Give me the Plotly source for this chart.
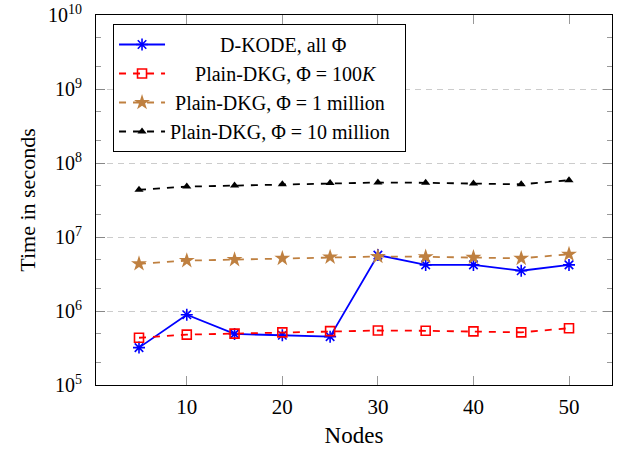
import plotly.graph_objects as go

nodes = [5, 10, 15, 20, 25, 30, 35, 40, 45, 50]
dkode = [3.2e5, 8.9e5, 4.9e5, 4.7e5, 4.5e5, 5.7e6, 4.2e6, 4.2e6, 3.5e6, 4.2e6]
dkg_100k = [4.35e5, 4.8e5, 4.95e5, 5.15e5, 5.35e5, 5.45e5, 5.4e5, 5.3e5, 5.15e5, 5.85e5]
dkg_1m = [4.35e6, 4.8e6, 4.95e6, 5.15e6, 5.35e6, 5.45e6, 5.4e6, 5.3e6, 5.15e6, 5.85e6]
dkg_10m = [4.35e7, 4.8e7, 4.95e7, 5.15e7, 5.35e7, 5.45e7, 5.4e7, 5.3e7, 5.15e7, 5.85e7]

series_names = [
    "D-KODE, all Φ",
    "Plain-DKG, Φ = 100<i>K</i>",
    "Plain-DKG, Φ = 1 million",
    "Plain-DKG, Φ = 10 million",
]
name_pad = [10, 5, 1, 0]  # non-breaking spaces to centre legend text

y_tickvals = [1e5, 1e6, 1e7, 1e8, 1e9, 1e10]
y_ticktext = ["10<sup>5</sup>", "10<sup>6</sup>", "10<sup>7</sup>", "10<sup>8</sup>", "10<sup>9</sup>", "10<sup>10</sup>"]
x_tickvals = [10, 20, 30, 40, 50]

FONT = "Liberation Serif"
DASH = "7px,7px"
NB = "\u00a0"

def nm(i):
    return NB * name_pad[i] + series_names[i] + NB * 2

fig = go.Figure()
fig.add_trace(go.Scatter(
    x=nodes, y=dkode, mode="lines+markers", name=nm(0),
    line=dict(color="#0000FF", width=1.8),
    marker=dict(symbol="asterisk-open", size=10, color="#0000FF", line=dict(color="#0000FF", width=1.6)),
))
fig.add_trace(go.Scatter(
    x=nodes, y=dkg_100k, mode="lines+markers", name=nm(1),
    line=dict(color="#FF0000", width=1.8, dash=DASH),
    marker=dict(symbol="square-open", size=9, color="#FF0000", line=dict(color="#FF0000", width=1.6)),
))
fig.add_trace(go.Scatter(
    x=nodes, y=dkg_1m, mode="lines+markers", name=nm(2),
    line=dict(color="#BF8040", width=1.8, dash=DASH),
    marker=dict(symbol="star", size=12, color="#BF8040", line=dict(width=0)),
))
fig.add_trace(go.Scatter(
    x=nodes, y=dkg_10m, mode="lines+markers", name=nm(3),
    line=dict(color="#000000", width=1.8, dash=DASH),
    marker=dict(symbol="triangle-up", size=8, color="#000000", line=dict(width=0)),
))

fig.update_layout(
    width=628, height=449, autosize=False,
    margin=dict(l=96, r=16, t=15, b=64, autoexpand=False),
    paper_bgcolor="white", plot_bgcolor="white",
    font=dict(family=FONT, size=20, color="#000000"),
    showlegend=True,
    legend=dict(
        x=0.033, y=0.9757, xanchor="left", yanchor="top",
        bgcolor="white", bordercolor="#000000", borderwidth=1,
        font=dict(family=FONT, size=20), tracegroupgap=0,
        itemwidth=46,
    ),
    xaxis=dict(
        range=[0.5, 54.5], tickvals=x_tickvals, ticks="inside", ticklen=9,
        tickcolor="#999999", showgrid=False, zeroline=False, automargin=True,
        showline=True, linecolor="#000000", linewidth=1, mirror="allticks",
        ticklabelstandoff=3,
        title=dict(text="Nodes", font=dict(family=FONT, size=23), standoff=8),
        tickfont=dict(family=FONT, size=21),
    ),
    yaxis=dict(
        type="log", range=[5, 10], tickvals=y_tickvals, ticktext=y_ticktext,
        ticks="inside", ticklen=9, tickcolor="#888888", automargin=True,
        ticklabeloverflow="allow",
        showgrid=True, gridcolor="#CCCCCC", griddash="6px,5px", gridwidth=1,
        zeroline=False, showline=True, linecolor="#000000", linewidth=1, mirror="allticks",
        ticklabelstandoff=9,
        minor=dict(ticks="inside", ticklen=5, tickcolor="#999999", showgrid=False),
        title=dict(text="Time in seconds", font=dict(family=FONT, size=22), standoff=6),
        tickfont=dict(family=FONT, size=20),
    ),
)

fig.write_html(
    "out.html",
    config={"displayModeBar": False},
    post_script="document.body.style.margin='0';",
)
